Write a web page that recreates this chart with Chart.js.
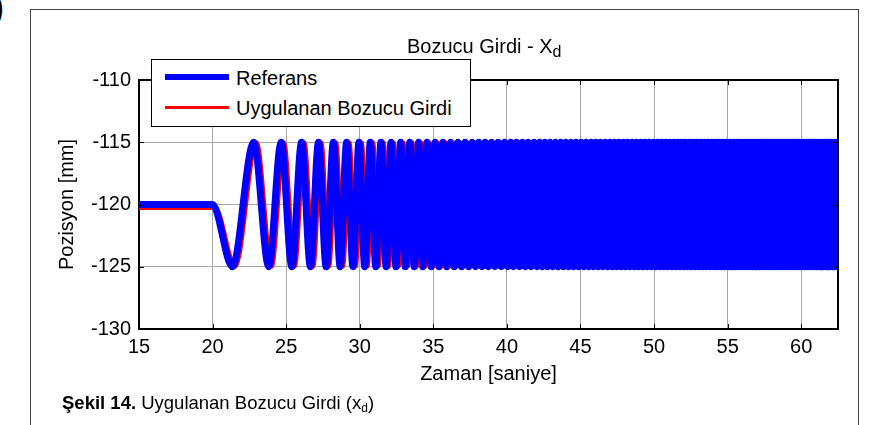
<!DOCTYPE html>
<html>
<head>
<meta charset="utf-8">
<script src="https://cdn.jsdelivr.net/npm/chart.js@4.4.1/dist/chart.umd.min.js"></script>
<style>
  html,body{margin:0;padding:0;background:#fff;}
  body{width:870px;height:425px;position:relative;overflow:hidden;font-family:"Liberation Sans",Arial,sans-serif;color:#000;}
  #frame{position:absolute;left:30px;top:9px;width:829px;height:600px;box-sizing:border-box;border:1.5px solid #444;}
  #corner{position:absolute;left:-7px;top:-11px;font:bold 32px "Liberation Sans",Arial,sans-serif;}
  #cv{position:absolute;left:0;top:0;}
  .txt{position:absolute;white-space:nowrap;}
  #ttl{left:407px;top:36px;font-size:20px;line-height:20px;}
  #ttl sub{font-size:16px;position:relative;top:4px;vertical-align:baseline;line-height:0;}
  #leg{position:absolute;left:151px;top:59px;width:320px;height:68px;box-sizing:border-box;border:1px solid #000;background:#fff;}
  .sw{position:absolute;left:165px;width:64px;}
  .lt{font-size:20px;line-height:24px;left:236px;}
  #cap{left:62px;top:393px;font-size:18.5px;line-height:20px;}
  #cap sub{font-size:12px;position:relative;top:3px;vertical-align:baseline;line-height:0;}
</style>
</head>
<body>
<div id="frame"></div>
<div id="corner">)</div>
<canvas id="cv" width="870" height="425"></canvas>
<div class="txt" id="ttl">Bozucu Girdi - X<sub>d</sub></div>
<div id="leg"></div>
<div class="sw" style="top:74px;height:6px;background:#0000ff;"></div>
<div class="txt lt" style="top:66px;">Referans</div>
<div class="sw" style="top:106px;height:3px;background:#ff0000;"></div>
<div class="txt lt" style="top:96px;">Uygulanan Bozucu Girdi</div>
<div class="txt" id="cap"><b>Şekil 14.</b> Uygulanan Bozucu Girdi (x<sub>d</sub>)</div>
<script>
(function(){
  // eksenler
  const xTicks = [15,20,25,30,35,40,45,50,55,60];
  const yTicks = [-130,-125,-120,-115,-110];
  const xMin = 15, xMax = 62.5, yMin = -130, yMax = -110;

  // referans sinyal: bekleme + chirp tepe/dip zamanlari (s)
  const restStart = 15, chirpStart = 20;
  const restLevel = -120, lowLevel = -125, highLevel = -115;
  const troughTimes = [
    21.35,23.82,25.39,26.65,27.72,28.67,29.54,30.34,31.09,31.79,
    32.46,33.09,33.70,34.28,34.85,35.39,35.91,36.42,36.92,37.40,
    37.87,38.31,38.74,39.18,39.62,40.06,40.45,40.85,41.25,41.64,
    42.04,42.40,42.76,43.12,43.48,43.84,44.19,44.53,44.87,45.22,
    45.56,45.88,46.20,46.52,46.84,47.16,47.46,47.76,48.06,48.36,
    48.67,48.95,49.24,49.53,49.81,50.10,50.38,50.65,50.92,51.20,
    51.47,51.74,52.00,52.26,52.53,52.79,53.04,53.30,53.55,53.81,
    54.06,54.30,54.55,54.79,55.04,55.28,55.52,55.76,55.99,56.23,
    56.47,56.69,56.92,57.15,57.38,57.61,57.83,58.06,58.28,58.50,
    58.73,58.94,59.16,59.38,59.59,59.81,60.02,60.23,60.44,60.65,
    60.86,61.07,61.28,61.48,61.69,61.89,62.10,62.30,62.50
  ];
  const peakTimes = [
    22.80,24.66,26.05,27.20,28.21,29.11,29.95,30.72,31.44,32.13,
    32.78,33.40,34.00,34.57,35.12,35.65,36.17,36.67,37.16,37.64,
    38.09,38.52,38.96,39.40,39.84,40.26,40.65,41.05,41.44,41.84,
    42.22,42.58,42.94,43.30,43.66,44.01,44.36,44.70,45.04,45.39,
    45.72,46.04,46.36,46.68,47.00,47.31,47.61,47.91,48.21,48.51,
    48.81,49.10,49.38,49.67,49.96,50.24,50.51,50.79,51.06,51.34,
    51.61,51.87,52.13,52.40,52.66,52.92,53.17,53.42,53.68,53.93,
    54.18,54.43,54.67,54.92,55.16,55.40,55.64,55.87,56.11,56.35,
    56.58,56.81,57.04,57.27,57.50,57.72,57.95,58.17,58.39,58.61,
    58.83,59.05,59.27,59.48,59.70,59.91,60.13,60.34,60.55,60.76,
    60.97,61.17,61.38,61.58,61.79,61.99,62.20,62.40
  ];
  // uygulanan girdi: referansa gore gecikme ve ofset
  const appliedLag = 0.22, appliedRest = -120.3;

  function buildSeries(lag, rest){
    const ext = troughTimes.map(t=>({x:t+lag, y:lowLevel}))
      .concat(peakTimes.map(t=>({x:t+lag, y:highLevel})))
      .sort((a,b)=>a.x-b.x);
    return [{x:restStart, y:rest},{x:chirpStart+lag, y:rest}].concat(ext);
  }

  const FONT = '"Liberation Sans", Arial, sans-serif';
  Chart.defaults.font.family = FONT;
  Chart.defaults.font.size = 20;
  Chart.defaults.color = '#000';

  const boxPlugin = {
    id:'box',
    afterDraw(chart){
      const {ctx, chartArea:{left,right,top,bottom}, scales:{x,y}} = chart;
      ctx.save();
      ctx.strokeStyle = '#000'; ctx.lineWidth = 1;
      ctx.beginPath();
      x.ticks.forEach(t=>{
        const px = Math.round(x.getPixelForValue(t.value))+0.5;
        ctx.moveTo(px,bottom); ctx.lineTo(px,bottom-5);
        ctx.moveTo(px,top); ctx.lineTo(px,top+5);
      });
      y.ticks.forEach(t=>{
        const py = Math.round(y.getPixelForValue(t.value))+0.5;
        ctx.moveTo(left,py); ctx.lineTo(left+5,py);
        ctx.moveTo(right,py); ctx.lineTo(right-5,py);
      });
      ctx.stroke();
      ctx.lineWidth = 2;
      ctx.beginPath();
      ctx.moveTo(left,top); ctx.lineTo(right,top); ctx.lineTo(right,bottom);
      ctx.stroke();
      ctx.restore();
    }
  };

  const mkLine = (data,col,w)=>({data, borderColor:col, backgroundColor:col, borderWidth:w,
    pointRadius:0, cubicInterpolationMode:'monotone', borderJoinStyle:'round', borderCapStyle:'round', fill:false});

  new Chart(document.getElementById('cv'), {
    type:'line',
    data:{datasets:[
      mkLine(buildSeries(0, restLevel), '#0000ff', 7),
      mkLine(buildSeries(appliedLag, appliedRest), '#ff0000', 3.5)
    ]},
    options:{
      responsive:false, animation:false, events:[],
      layout:{padding:{left:0, top:80, right:32, bottom:0}},
      plugins:{legend:{display:false}, tooltip:{enabled:false}, title:{display:false}},
      scales:{
        x:{type:'linear', min:xMin, max:xMax,
          afterFit:s=>{ s.height = 96; },
          afterBuildTicks:s=>{ s.ticks = xTicks.map(v=>({value:v})); },
          ticks:{padding:6, autoSkip:false, maxRotation:0, callback:v=>String(v)},
          grid:{color:'#a8a8a8', lineWidth:1, drawTicks:false},
          border:{display:true, color:'#000', width:2},
          title:{display:true, text:'Zaman [saniye]', padding:{top:0, bottom:39}}
        },
        y:{type:'linear', min:yMin, max:yMax,
          afterFit:s=>{ s.width = 139; },
          afterBuildTicks:s=>{ s.ticks = yTicks.map(v=>({value:v})); },
          ticks:{padding:8, callback:v=>String(v)},
          grid:{color:'#a8a8a8', lineWidth:1, drawTicks:false},
          border:{display:true, color:'#000', width:2},
          title:{display:true, text:'Pozisyon [mm]', padding:{top:55, bottom:0}}
        }
      }
    },
    plugins:[boxPlugin]
  });
})();
</script>
</body>
</html>
